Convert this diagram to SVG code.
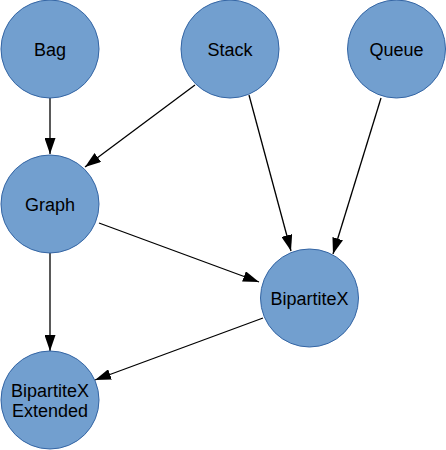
<svg xmlns="http://www.w3.org/2000/svg" width="446" height="450" viewBox="0 0 446 450">
<style>
.n{fill:#729fcf;stroke:#3465a4;stroke-width:1}
.t{font-family:"Liberation Sans",Arial,sans-serif;font-size:18px;fill:#000;text-anchor:middle}
.e{stroke:#000;stroke-width:1.3;fill:none;marker-end:url(#a)}
</style>
<defs>
<marker id="a" markerUnits="userSpaceOnUse" markerWidth="17" markerHeight="11" refX="16" refY="5.5" orient="auto">
<path d="M0,0 L16,5.5 L0,11 z" fill="#000"/>
</marker>
</defs>
<rect width="446" height="450" fill="#fff"/>
<g id="edges">
<line class="e" x1="50" y1="98" x2="50" y2="154"/>
<line class="e" x1="195" y1="85" x2="85" y2="167"/>
<line class="e" x1="249" y1="95" x2="291" y2="251"/>
<line class="e" x1="381" y1="98" x2="333" y2="254"/>
<line class="e" x1="99" y1="223" x2="259" y2="282"/>
<line class="e" x1="50" y1="253" x2="50" y2="351"/>
<line class="e" x1="263" y1="318" x2="95" y2="380"/>
</g>
<g id="bag"><circle class="n" cx="50" cy="49" r="49"/><text class="t" x="50" y="55.5">Bag</text></g>
<g id="stack"><circle class="n" cx="230" cy="49" r="49"/><text class="t" x="230" y="55.5">Stack</text></g>
<g id="queue"><circle class="n" cx="396.5" cy="49" r="49"/><text class="t" x="396.5" y="55.5">Queue</text></g>
<g id="graph"><circle class="n" cx="50" cy="204" r="49"/><text class="t" x="50" y="210.5">Graph</text></g>
<g id="bipartitex"><circle class="n" cx="309.5" cy="298" r="49"/><text class="t" x="309.5" y="304.5">BipartiteX</text></g>
<g id="bipartitex-extended"><circle class="n" cx="50" cy="400" r="49"/><text class="t" x="50" y="396.5">BipartiteX</text><text class="t" x="50" y="416.5">Extended</text></g>
</svg>
